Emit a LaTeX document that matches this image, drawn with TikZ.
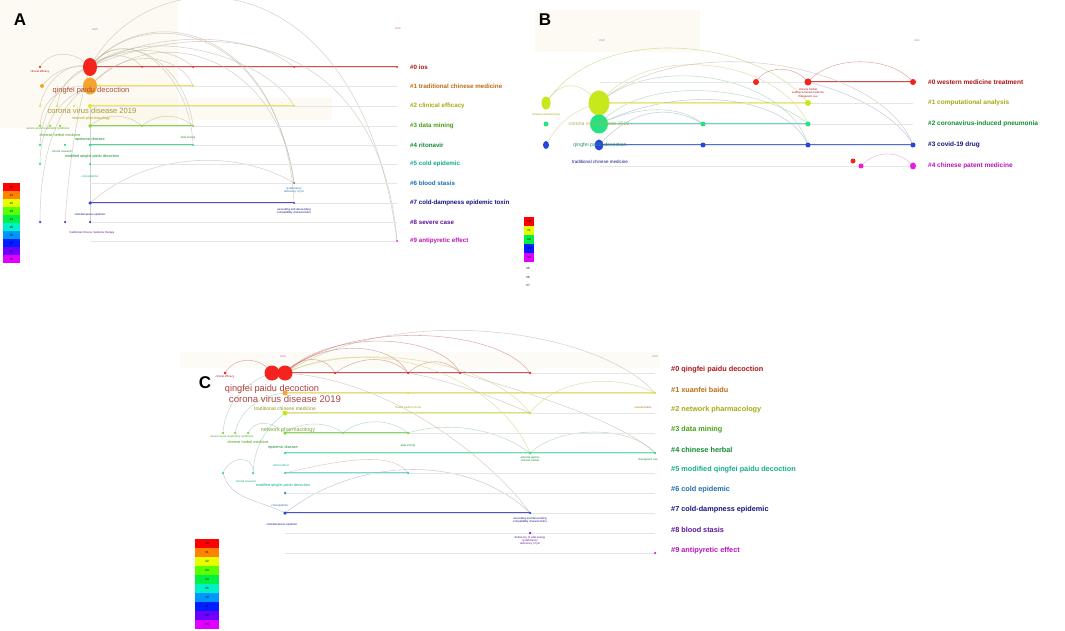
\documentclass[tikz,border=0pt]{standalone}
\usepackage{fontspec}
\setmainfont{Liberation Sans}
\usetikzlibrary{shapes.geometric}
\pgfdeclarelayer{back}
\pgfdeclarelayer{bg}
\pgfsetlayers{back,bg,main}
% legend colours
\definecolor{L0}{RGB}{255,0,0}
\definecolor{L1}{RGB}{255,130,0}
\definecolor{L2}{RGB}{230,255,0}
\definecolor{L3}{RGB}{90,255,0}
\definecolor{L4}{RGB}{0,240,70}
\definecolor{L5}{RGB}{0,240,200}
\definecolor{L6}{RGB}{0,150,255}
\definecolor{L7}{RGB}{0,30,255}
\definecolor{L8}{RGB}{110,0,255}
\definecolor{L9}{RGB}{225,0,255}
% cluster label colours
\definecolor{K0}{RGB}{175,20,20}
\definecolor{K1}{RGB}{185,110,20}
\definecolor{K2}{RGB}{165,170,20}
\definecolor{K3}{RGB}{70,160,20}
\definecolor{K4}{RGB}{20,140,50}
\definecolor{K5}{RGB}{20,170,145}
\definecolor{K6}{RGB}{30,110,175}
\definecolor{K7}{RGB}{20,20,130}
\definecolor{K8}{RGB}{90,20,150}
\definecolor{K9}{RGB}{185,20,185}
% timeline colours
\definecolor{T0}{RGB}{225,75,65}
\definecolor{T1}{RGB}{240,228,70}
\definecolor{T2}{RGB}{228,235,80}
\definecolor{T3}{RGB}{130,215,70}
\definecolor{T4}{RGB}{80,215,150}
\definecolor{T5}{RGB}{110,220,220}
\definecolor{T7}{RGB}{80,80,205}
\definecolor{TB0}{RGB}{205,75,75}
\definecolor{TB1}{RGB}{240,240,60}
\definecolor{TB2}{RGB}{100,220,195}
\definecolor{TB3}{RGB}{75,110,220}
\definecolor{TC0}{RGB}{200,90,90}
\definecolor{TC1}{RGB}{238,226,80}
\definecolor{TC2}{RGB}{222,232,90}
\definecolor{TC3}{RGB}{130,222,80}
\definecolor{TC4}{RGB}{95,230,170}
% node colours
\definecolor{Nred}{RGB}{245,35,30}
\definecolor{Norange}{RGB}{245,165,45}
\definecolor{Nyellow}{RGB}{225,230,50}
\definecolor{Nyg}{RGB}{200,232,30}
\definecolor{Nlime}{RGB}{120,215,50}
\definecolor{Ngreen}{RGB}{40,225,130}
\definecolor{Ncyan}{RGB}{60,205,200}
\definecolor{Nsteel}{RGB}{50,120,200}
\definecolor{Nblue}{RGB}{35,70,225}
\definecolor{Npurple}{RGB}{110,40,190}
\definecolor{Nmag}{RGB}{230,30,220}
\definecolor{Arc}{RGB}{185,175,155}
\definecolor{ArcR}{RGB}{200,110,100}
\definecolor{ArcY}{RGB}{200,200,110}
\definecolor{ArcG}{RGB}{140,200,150}
\definecolor{ArcB}{RGB}{160,160,200}
\definecolor{ArcYG}{RGB}{185,200,90}
\definecolor{ArcM}{RGB}{225,130,215}
\definecolor{Tim}{RGB}{200,90,210}
\definecolor{Beige}{RGB}{250,244,228}
\definecolor{TxA1}{RGB}{175,75,55}
\definecolor{TxA2}{RGB}{170,150,55}
\definecolor{TxB1}{RGB}{175,178,80}
\definecolor{TxB2}{RGB}{50,140,120}
\definecolor{TxC1}{RGB}{180,60,60}
\definecolor{TxC2}{RGB}{170,70,70}
\definecolor{TxC3}{RGB}{150,150,40}
\definecolor{TxC4}{RGB}{120,165,60}
\tikzset{
  dot/.style={circle, fill=#1, draw=none, inner sep=0pt, minimum size=3pt},
  blob/.style={ellipse, fill=#1, draw=none, inner sep=0pt},
  arcst/.style={draw=#1, line width=0.55pt, opacity=0.55},
  tline/.style={draw=#1, line width=1.3pt},
  tlineb/.style={draw=#1, line width=1.7pt},
  baseln/.style={draw=black!10, line width=0.4pt},
  clabA/.style={anchor=west, inner sep=0pt, text=#1, font=\bfseries\fontsize{6.2}{7}\selectfont},
  clabB/.style={anchor=west, inner sep=0pt, text=#1, font=\fontsize{6.5}{7}\selectfont\bfseries},
  clabC/.style={anchor=west, inner sep=0pt, text=#1, font=\bfseries\fontsize{7.3}{8}\selectfont},
  tinyl/.style={inner sep=0pt, text=#1, font=\fontsize{2.8}{3.2}\selectfont, align=center},
  midl/.style={inner sep=0pt, text=#1, font=\fontsize{3.8}{4.2}\selectfont, align=center},
  legbox/.style={rectangle, fill=#1, draw=none, inner sep=0pt, font=\fontsize{3}{3}\selectfont},
  plet/.style={inner sep=0pt, font=\bfseries\fontsize{17}{18}\selectfont},
  timel/.style={inner sep=0pt, text=Tim, font=\fontsize{2.6}{3}\selectfont},
}
\begin{document}
\begin{tikzpicture}[x=1pt,y=-1pt]
\useasboundingbox (0,0) rectangle (1065,631);
\begin{pgfonlayer}{back}
\fill[white] (0,0) rectangle (1065,631);
% faint background panels
\fill[Beige,opacity=0.45] (0,0) rectangle (178,128);
\fill[Beige,opacity=0.45] (88,98) rectangle (332,120);
\fill[Beige,opacity=0.45] (535,10) rectangle (700,52);
\fill[Beige,opacity=0.35] (180,352) rectangle (660,368);
\end{pgfonlayer}

% ================= PANEL A =================
\node[plet] (PA) at (20,20) {A};
\node[timel] (TA1) at (95,30) {2020};
\node[timel] (TA2) at (398,29) {2022};
\foreach \y in {67,86,106,126,145,164,183,203,222,241} \draw[baseln] (90,\y) -- (397,\y);
% nodes
\node[dot=Nred, minimum size=2.5pt] (A0a) at (40,67) {};
\node[blob=Nred, minimum width=14pt, minimum height=18pt] (A0b) at (90,67) {};
\node[dot=Nred, minimum size=2pt] (A0c) at (142,67) {};
\node[dot=Nred, minimum size=2pt] (A0d) at (193,67) {};
\node[dot=Nred, minimum size=2pt] (A0e) at (294,67) {};
\node[dot=Nred, minimum size=2pt] (A0f) at (397,67) {};
\node[dot=Norange, minimum size=4pt] (A1a) at (42,86) {};
\node[blob=Norange, minimum width=14pt, minimum height=17pt] (A1b) at (90,86) {};
\node[dot=Nyellow, minimum size=2pt] (A1c) at (193,86) {};
\node[dot=Nyellow, minimum size=2.5pt] (A2a) at (40,106) {};
\node[dot=Nyellow, minimum size=2.5pt] (A2b) at (57,106) {};
\node[dot=Nyellow, minimum size=2.5pt] (A2c) at (74,106) {};
\node[dot=Nyellow, minimum size=4pt] (A2d) at (90,106) {};
\node[dot=Nyellow, minimum size=2pt] (A2e) at (294,106) {};
\node[dot=Nlime, minimum size=2.5pt] (A3a) at (40,126) {};
\node[dot=Nlime, minimum size=2.5pt] (A3b) at (50,126) {};
\node[dot=Nlime, minimum size=2.5pt] (A3c) at (60,126) {};
\node[dot=Nlime, minimum size=3.5pt] (A3d) at (90,126) {};
\node[dot=Nlime, minimum size=2pt] (A3e) at (142,126) {};
\node[dot=Nlime, minimum size=2pt] (A3f) at (193,126) {};
\node[dot=Ngreen, minimum size=2.5pt] (A4a) at (40,145) {};
\node[dot=Ngreen, minimum size=2.5pt] (A4b) at (65,145) {};
\node[dot=Ngreen, minimum size=3pt] (A4c) at (90,145) {};
\node[dot=Ngreen, minimum size=2pt] (A4d) at (193,145) {};
\node[dot=Ncyan, minimum size=2.5pt] (A5a) at (40,164) {};
\node[dot=Ncyan, minimum size=2.5pt] (A5b) at (90,164) {};
\node[dot=Nsteel, minimum size=2pt] (A6a) at (294,183) {};
\node[dot=Nblue, minimum size=3.5pt] (A7a) at (90,203) {};
\node[dot=Nblue, minimum size=2pt] (A7b) at (294,203) {};
\node[dot=Npurple, minimum size=2.5pt] (A8a) at (40,222) {};
\node[dot=Npurple, minimum size=2.5pt] (A8b) at (65,222) {};
\node[dot=Npurple, minimum size=2.5pt] (A8c) at (90,222) {};
\node[dot=Nmag, minimum size=2pt] (A9a) at (397,241) {};
% labels
\node[inner sep=0pt, text=TxA1, font=\fontsize{7.5}{8}\selectfont] (AL1) at (91,91) {qingfei paidu decoction};
\node[inner sep=0pt, text=TxA2, font=\fontsize{7.6}{8}\selectfont] (AL2) at (92,111) {corona virus disease 2019};
\node[midl=K2] (AL3) at (91,119) {network pharmacology};
\node[tinyl=K3] (AL4) at (48,129) {severe acute respiratory syndrome};
\node[midl=K3] (AL5) at (60,135) {chinese herbal medicine};
\node[midl=K4] (AL6) at (90,140) {epidemic disease};
\node[tinyl=K4] (AL7) at (188,138) {data mining};
\node[tinyl=K4] (AL8) at (62,152) {clinical research};
\node[midl=K4] (AL9) at (92,157) {modified qingfei paidu decoction};
\node[tinyl=K5] (AL10) at (90,177) {cold epidemic};
\node[tinyl=K7] (AL11) at (90,215) {cold-dampness epidemic};
\node[tinyl=K8] (AL12) at (92,233) {traditional chinese medicine therapy};
\node[tinyl=K0] (AL13) at (40,72) {clinical efficacy};
\node[tinyl=K6] (AL14) at (294,190) {qi deficiency\\deficiency of yin};
\node[tinyl=K7] (AL15) at (294,211) {ascending and descending\\compatibility characteristics};
% cluster labels
\node[clabA=K0] (AC0) at (410,67) {\#0 ios};
\node[clabA=K1] (AC1) at (410,86) {\#1 traditional chinese medicine};
\node[clabA=K2] (AC2) at (410,106) {\#2 clinical efficacy};
\node[clabA=K3] (AC3) at (410,126) {\#3 data mining};
\node[clabA=K4] (AC4) at (410,145) {\#4 ritonavir};
\node[clabA=K5] (AC5) at (410,164) {\#5 cold epidemic};
\node[clabA=K6] (AC6) at (410,183) {\#6 blood stasis};
\node[clabA=K7] (AC7) at (410,203) {\#7 cold-dampness epidemic toxin};
\node[clabA=K8] (AC8) at (410,222) {\#8 severe case};
\node[clabA=K9] (AC9) at (410,241) {\#9 antipyretic effect};
% legend
\foreach \i/\c in {0/L0,1/L1,2/L2,3/L3,4/L4,5/L5,6/L6,7/L7,8/L8,9/L9}
  \node[legbox=\c, minimum width=17pt, minimum height=8pt] (LA\i) at (11.5,187+8*\i) {\#\i};

% ================= PANEL B =================
\node[plet] (PB) at (545,20) {B};
\node[timel] (TB1) at (602,41) {2020};
\node[timel] (TB2) at (917,41) {2021};
\foreach \y in {82,103,124,145,166} \draw[baseln] (600,\y) -- (913,\y);
\node[dot=Nred, minimum size=6pt] (B0a) at (756,82) {};
\node[dot=Nred, minimum size=7pt] (B0b) at (808,82) {};
\node[dot=Nred, minimum size=6pt] (B0c) at (913,82) {};
\node[blob=Nyg, minimum width=9pt, minimum height=13pt] (B1a) at (546,103) {};
\node[blob=Nyg, minimum width=21pt, minimum height=25pt] (B1b) at (599,103) {};
\node[dot=Nyg, minimum size=6pt] (B1c) at (808,103) {};
\node[dot=Ngreen, minimum size=5pt] (B2a) at (546,124) {};
\node[blob=Ngreen, minimum width=18pt, minimum height=19pt] (B2b) at (599,124) {};
\node[dot=Ngreen, minimum size=5pt] (B2c) at (703,124) {};
\node[dot=Ngreen, minimum size=5pt] (B2d) at (808,124) {};
\node[blob=Nblue, minimum width=6pt, minimum height=8pt] (B3a) at (546,145) {};
\node[blob=Nblue, minimum width=9pt, minimum height=11pt] (B3b) at (599,145) {};
\node[dot=Nblue, minimum size=5pt] (B3c) at (703,145) {};
\node[dot=Nblue, minimum size=5pt] (B3d) at (808,145) {};
\node[dot=Nblue, minimum size=5pt] (B3e) at (913,145) {};
\node[dot=Nred, minimum size=5pt] (B4a) at (853,161) {};
\node[dot=Nmag, minimum size=5pt] (B4b) at (861,166) {};
\node[blob=Nmag, minimum width=6pt, minimum height=7pt] (B4c) at (913,166) {};
% labels
\node[inner sep=0pt, text=TxB1, font=\fontsize{5.2}{6}\selectfont] (BL1) at (599,124) {corona virus disease 2019};
\node[inner sep=0pt, text=TxB2, font=\fontsize{5.2}{6}\selectfont] (BL2) at (600,145) {qingfei paidu decoction};
\node[inner sep=0pt, text=K7, font=\fontsize{4.5}{5}\selectfont] (BL3) at (600,162) {traditional chinese medicine};
\node[tinyl=K0] (BL4) at (808,93) {chinese herbal\\evidence-based medicine\\[0.8pt]therapeutic use};
\node[tinyl=K2] (BL5) at (546,115) {network pharmacology};
% cluster labels
\node[clabB=K0] (BC0) at (928,82) {\#0 western medicine treatment};
\node[clabB=K2] (BC1) at (928,103) {\#1 computational analysis};
\node[clabB=K4] (BC2) at (928,124) {\#2 coronavirus-induced pneumonia};
\node[clabB=K7] (BC3) at (928,145) {\#3 covid-19 drug};
\node[clabB=K9] (BC4) at (928,166) {\#4 chinese patent medicine};
% legend
\foreach \i/\c in {0/L0,1/L2,2/L4,3/L7,4/L9}
  \node[legbox=\c, minimum width=10pt, minimum height=9pt] (LB\i) at (529,221.5+9*\i) {\#\i};
\node[inner sep=0pt, font=\fontsize{3}{3}\selectfont] (LB5) at (528,268) {\#5};
\node[inner sep=0pt, font=\fontsize{3}{3}\selectfont] (LB6) at (528,277) {\#6};
\node[inner sep=0pt, font=\fontsize{3}{3}\selectfont] (LB7) at (528,285) {\#7};

% ================= PANEL C =================
\node[plet] (PC) at (205,383) {C};
\node[timel] (TC1) at (283,357) {2020};
\node[timel] (TC2) at (655,357) {2022};
\foreach \y in {373,393,413,433,453,473,493,513,533,553} \draw[baseln] (285,\y) -- (655,\y);
\node[dot=Nred, minimum size=3pt] (C0a) at (225,373) {};
\node[dot=Nred, minimum size=2.5pt] (C0d) at (335,373) {};
\node[dot=Nred, minimum size=2.5pt] (C0e) at (408,373) {};
\node[dot=Nred, minimum size=2.5pt] (C0f) at (460,373) {};
\node[dot=Nred, minimum size=2.5pt] (C0g) at (530,373) {};
\node[dot=Norange, minimum size=5pt] (C1a) at (285,393) {};
\node[dot=Nyellow, minimum size=2.5pt] (C1b) at (408,393) {};
\node[dot=Nyellow, minimum size=2.5pt] (C1c) at (655,393) {};
\node[dot=Nyg, minimum size=5pt] (C2a) at (285,413) {};
\node[dot=Nyg, minimum size=2.5pt] (C2b) at (530,413) {};
\node[dot=Nlime, minimum size=2.5pt] (C3a) at (223,433) {};
\node[dot=Nlime, minimum size=2.5pt] (C3b) at (235,433) {};
\node[dot=Nlime, minimum size=2.5pt] (C3c) at (248,433) {};
\node[dot=Nlime, minimum size=3.5pt] (C3d) at (285,433) {};
\node[dot=Nlime, minimum size=2pt] (C3f) at (343,433) {};
\node[dot=Nlime, minimum size=2.5pt] (C3e) at (408,433) {};
\node[dot=Ngreen, minimum size=2.5pt] (C4a) at (285,453) {};
\node[dot=Ngreen, minimum size=2.5pt] (C4b) at (530,453) {};
\node[dot=Ngreen, minimum size=2.5pt] (C4c) at (655,453) {};
\node[dot=Ncyan, minimum size=2.5pt] (C5a) at (223,473) {};
\node[dot=Ncyan, minimum size=2.5pt] (C5b) at (253,473) {};
\node[dot=Ncyan, minimum size=2.5pt] (C5c) at (285,473) {};
\node[dot=Ncyan, minimum size=2.5pt] (C5d) at (408,473) {};
\node[dot=Nsteel, minimum size=2.5pt] (C6a) at (285,493) {};
\node[dot=Nblue, minimum size=3.5pt] (C7a) at (285,513) {};
\node[dot=Nblue, minimum size=2.5pt] (C7b) at (530,513) {};
\node[dot=Npurple, minimum size=2.5pt] (C8a) at (530,533) {};
\node[dot=Nmag, minimum size=2.5pt] (C9a) at (655,553) {};
% labels
\node[inner sep=0pt, text=TxC1, font=\fontsize{9.2}{10}\selectfont] (CL1) at (272,389) {qingfei paidu decoction};
\node[inner sep=0pt, text=TxC2, font=\fontsize{9.6}{10}\selectfont] (CL2) at (285,399) {corona virus disease 2019};
\node[inner sep=0pt, text=TxC3, font=\fontsize{5}{6}\selectfont] (CL3) at (285,409) {traditional chinese medicine};
\node[inner sep=0pt, text=TxC4, font=\fontsize{5.4}{6}\selectfont] (CL4) at (288,430) {network pharmacology};
\node[tinyl=K3] (CL5) at (232,437) {severe acute respiratory syndrome};
\node[midl=K3] (CL6) at (248,442) {chinese herbal medicine};
\node[midl=K4] (CL7) at (283,448) {epidemic disease};
\node[tinyl=K4] (CL8) at (408,446) {data mining};
\node[tinyl=K2] (CL9) at (408,407) {huashi baidu formula};
\node[tinyl=K5] (CL10) at (281,465) {clinical effect};
\node[tinyl=K5] (CL11) at (246,481) {clinical research};
\node[midl=K5] (CL12) at (283,486) {modified qingfei paidu decoction};
\node[tinyl=K6] (CL13) at (280,506) {cold epidemic};
\node[tinyl=K7] (CL14) at (282,525) {cold-dampness epidemic};
\node[tinyl=K0] (CL15) at (225,377) {clinical efficacy};
\node[tinyl=K1] (CL16) at (643,407) {xuanfei baidu};
\node[tinyl=K4] (CL17) at (530,459) {antiviral agents\\chinese herbal};
\node[tinyl=K4] (CL18) at (648,460) {therapeutic use};
\node[tinyl=K7] (CL19) at (530,520) {ascending and descending\\compatibility characteristics};
\node[tinyl=K8] (CL20) at (530,541) {deficiency of vital energy\\qi deficiency\\deficiency of yin};
% cluster labels
\node[clabC=K0] (CC0) at (671,370) {\#0 qingfei paidu decoction};
\node[clabC=K1] (CC1) at (671,390) {\#1 xuanfei baidu};
\node[clabC=K2] (CC2) at (671,410) {\#2 network pharmacology};
\node[clabC=K3] (CC3) at (671,430) {\#3 data mining};
\node[clabC=K4] (CC4) at (671,450) {\#4 chinese herbal};
\node[clabC=K5] (CC5) at (671,470) {\#5 modified qingfei paidu decoction};
\node[clabC=K6] (CC6) at (671,490) {\#6 cold epidemic};
\node[clabC=K7] (CC7) at (671,510) {\#7 cold-dampness epidemic};
\node[clabC=K8] (CC8) at (671,530) {\#8 blood stasis};
\node[clabC=K9] (CC9) at (671,551) {\#9 antipyretic effect};
% legend
\foreach \i/\c in {0/L0,1/L1,2/L2,3/L3,4/L4,5/L5,6/L6,7/L7,8/L8,9/L9}
  \node[legbox=\c, minimum width=24pt, minimum height=9pt] (LC\i) at (207,543.5+9*\i) {\#\i};
% big red nodes of C on top
\node[dot=Nred, minimum size=15pt] (C0b) at (272,373) {};
\node[dot=Nred, minimum size=15pt] (C0c) at (285,373) {};

% ================= CONNECTORS (background) =================
\begin{pgfonlayer}{bg}
% --- A timelines
\draw[tline=T0] (A0b.center) -- (A0f.center);
\draw[tline=T1] (A1b.center) -- (A1c.center);
\draw[tline=T2] (A2d.center) -- (A2e.center);
\draw[tline=T3] (A3d.center) -- (A3f.center);
\draw[tline=T4] (A4c.center) -- (A4d.center);
\draw[tline=T7] (A7a.center) -- (A7b.center);
% --- A arcs
\draw[arcst=Arc] (A0b.center) .. controls (150,-45) and (360,-45) .. (A9a.center);
\draw[arcst=Arc] (A0b.center) .. controls (140,5) and (270,20) .. (A6a.center);
\draw[arcst=Arc] (A0b.center) .. controls (150,-5) and (285,30) .. (A7b.center);
\draw[arcst=Arc] (A1b.center) .. controls (160,15) and (280,60) .. (A6a.center);
\draw[arcst=Arc] (A0b.center) .. controls (120,25) and (185,60) .. (A3f.center);
\draw[arcst=Arc] (A0b.center) .. controls (125,20) and (190,70) .. (A4d.center);
\draw[arcst=Arc] (A1b.center) .. controls (130,40) and (185,60) .. (A1c.center);
\draw[arcst=Arc] (A0b.center) .. controls (150,20) and (270,60) .. (A2e.center);
\draw[arcst=Arc] (A0b.center) .. controls (150,30) and (250,30) .. (A0e.center);
\draw[arcst=Arc] (A0b.center) .. controls (120,45) and (170,45) .. (A0d.center);
\draw[arcst=Arc] (A0b.center) .. controls (105,52) and (130,52) .. (A0c.center);
\draw[arcst=Arc] (A0b.center) .. controls (220,10) and (380,40) .. (A9a.center);
\draw[arcst=Arc] (A7a.center) .. controls (150,150) and (240,150) .. (A6a.center);
\draw[arcst=Arc] (A3d.center) .. controls (105,113) and (127,113) .. (A3e.center);
\draw[arcst=Arc] (A3e.center) .. controls (157,113) and (178,113) .. (A3f.center);
\draw[arcst=Arc] (A0a.center) .. controls (50,50) and (75,50) .. (A0b.center);
\draw[arcst=Arc] (A2a.center) .. controls (45,80) and (70,60) .. (A0b.center);
\draw[arcst=Arc] (A2b.center) .. controls (60,85) and (75,70) .. (A0b.center);
\draw[arcst=Arc] (A3a.center) .. controls (42,100) and (60,85) .. (A1b.center);
\draw[arcst=Arc] (A4a.center) .. controls (42,110) and (60,80) .. (A0b.center);
\draw[arcst=Arc] (A5a.center) .. controls (40,120) and (65,95) .. (A1b.center);
\draw[arcst=Arc] (A8a.center) .. controls (40,150) and (60,100) .. (A1b.center);
\draw[arcst=Arc] (A8b.center) .. controls (70,150) and (80,100) .. (A0b.center);
\draw[arcst=Arc] (A8c.center) -- (A2d.center);
\draw[arcst=Arc] (A1a.center) .. controls (55,70) and (70,65) .. (A0b.center);
% --- B timelines
\draw[tlineb=TB0] (B0b.center) -- (B0c.center);
\draw[tlineb=TB1] (B1b.center) -- (B1c.center);
\draw[tlineb=TB2] (B2b.center) -- (B2d.center);
\draw[tlineb=TB3] (B3b.center) -- (B3e.center);
% --- B arcs
\draw[arcst=ArcYG] (B1a.center) .. controls (600,20) and (760,40) .. (B1c.center);
\draw[arcst=ArcY] (B1b.center) .. controls (650,40) and (780,60) .. (B2d.center);
\draw[arcst=Arc] (B1b.center) .. controls (680,30) and (880,60) .. (B3e.center);
\draw[arcst=ArcG] (B1b.center) .. controls (660,50) and (790,80) .. (B3d.center);
\draw[arcst=ArcG] (B2b.center) .. controls (650,70) and (770,90) .. (B2d.center);
\draw[arcst=ArcB] (B3b.center) .. controls (640,100) and (680,110) .. (B2c.center);
\draw[arcst=ArcR] (B0a.center) .. controls (765,65) and (795,65) .. (B0b.center);
\draw[arcst=ArcR] (B0b.center) .. controls (830,55) and (890,55) .. (B0c.center);
\draw[arcst=ArcB] (B0b.center) .. controls (860,95) and (900,120) .. (B3e.center);
\draw[arcst=ArcM] (B4b.center) .. controls (875,150) and (900,150) .. (B4c.center);
\draw[arcst=ArcY] (B3a.center) .. controls (560,120) and (575,110) .. (B1b.center);
\draw[arcst=ArcY] (B1a.center) .. controls (560,80) and (580,80) .. (B1b.center);
\draw[arcst=ArcB] (B2b.center) .. controls (690,80) and (790,100) .. (B3d.center);
\draw[arcst=ArcG] (B2b.center) .. controls (640,105) and (680,105) .. (B2c.center);
% --- C timelines
\draw[tline=TC0] (C0c.center) -- (C0g.center);
\draw[tline=TC1] (C1a.center) -- (C1c.center);
\draw[tline=TC2] (C2a.center) -- (C2b.center);
\draw[tline=TC3] (C3d.center) -- (C3e.center);
\draw[tline=TC4] (C4a.center) -- (C4c.center);
\draw[tline=T5] (C5c.center) -- (C5d.center);
\draw[tline=T7] (C7a.center) -- (C7b.center);
% --- C arcs
\draw[arcst=ArcR] (C0b.center) .. controls (260,356) and (235,356) .. (C0a.center);
\draw[arcst=ArcR] (C0c.center) .. controls (300,355) and (325,355) .. (C0d.center);
\draw[arcst=ArcR] (C0c.center) .. controls (320,340) and (390,340) .. (C0e.center);
\draw[arcst=ArcR] (C0c.center) .. controls (330,328) and (440,333) .. (C0f.center);
\draw[arcst=ArcR] (C0c.center) .. controls (350,318) and (500,328) .. (C0g.center);
\draw[arcst=ArcR] (C0d.center) .. controls (360,355) and (390,355) .. (C0e.center);
\draw[arcst=ArcR] (C0e.center) .. controls (425,358) and (445,358) .. (C0f.center);
\draw[arcst=Arc] (C0c.center) .. controls (400,300) and (600,330) .. (C1c.center);
\draw[arcst=ArcY] (C0c.center) .. controls (380,330) and (500,380) .. (C4b.center);
\draw[arcst=ArcY] (C0c.center) .. controls (360,340) and (490,360) .. (C2b.center);
\draw[arcst=Arc] (C0e.center) .. controls (450,380) and (500,400) .. (C2b.center);
\draw[arcst=Arc] (C0c.center) .. controls (400,380) and (500,470) .. (C7b.center);
\draw[arcst=Arc] (C0f.center) .. controls (520,390) and (620,420) .. (C4c.center);
\draw[arcst=ArcG] (C3d.center) .. controls (300,421) and (328,421) .. (C3f.center);
\draw[arcst=ArcG] (C3f.center) .. controls (360,418) and (390,418) .. (C3e.center);
\draw[arcst=ArcG] (C4b.center) .. controls (560,425) and (630,425) .. (C4c.center);
\draw[arcst=ArcG] (C3e.center) .. controls (450,420) and (500,430) .. (C4b.center);
\draw[arcst=ArcB] (C7a.center) .. controls (360,455) and (470,455) .. (C7b.center);
\draw[arcst=ArcY] (C2b.center) .. controls (560,375) and (620,375) .. (C1c.center);
\draw[arcst=ArcG] (C3a.center) .. controls (225,400) and (250,380) .. (C0b.center);
\draw[arcst=ArcG] (C3b.center) .. controls (240,410) and (260,395) .. (C1a.center);
\draw[arcst=ArcG] (C3c.center) .. controls (255,420) and (270,420) .. (C3d.center);
\draw[arcst=ArcG] (C5a.center) .. controls (230,455) and (255,455) .. (C5b.center);
\draw[arcst=ArcG] (C5b.center) .. controls (255,440) and (270,425) .. (C2a.center);
\draw[arcst=ArcB] (C5a.center) .. controls (230,500) and (260,500) .. (C7a.center);
\draw[arcst=Arc] (C5c.center) .. controls (360,455) and (395,455) .. (C5d.center);
\end{pgfonlayer}
\end{tikzpicture}
\end{document}
